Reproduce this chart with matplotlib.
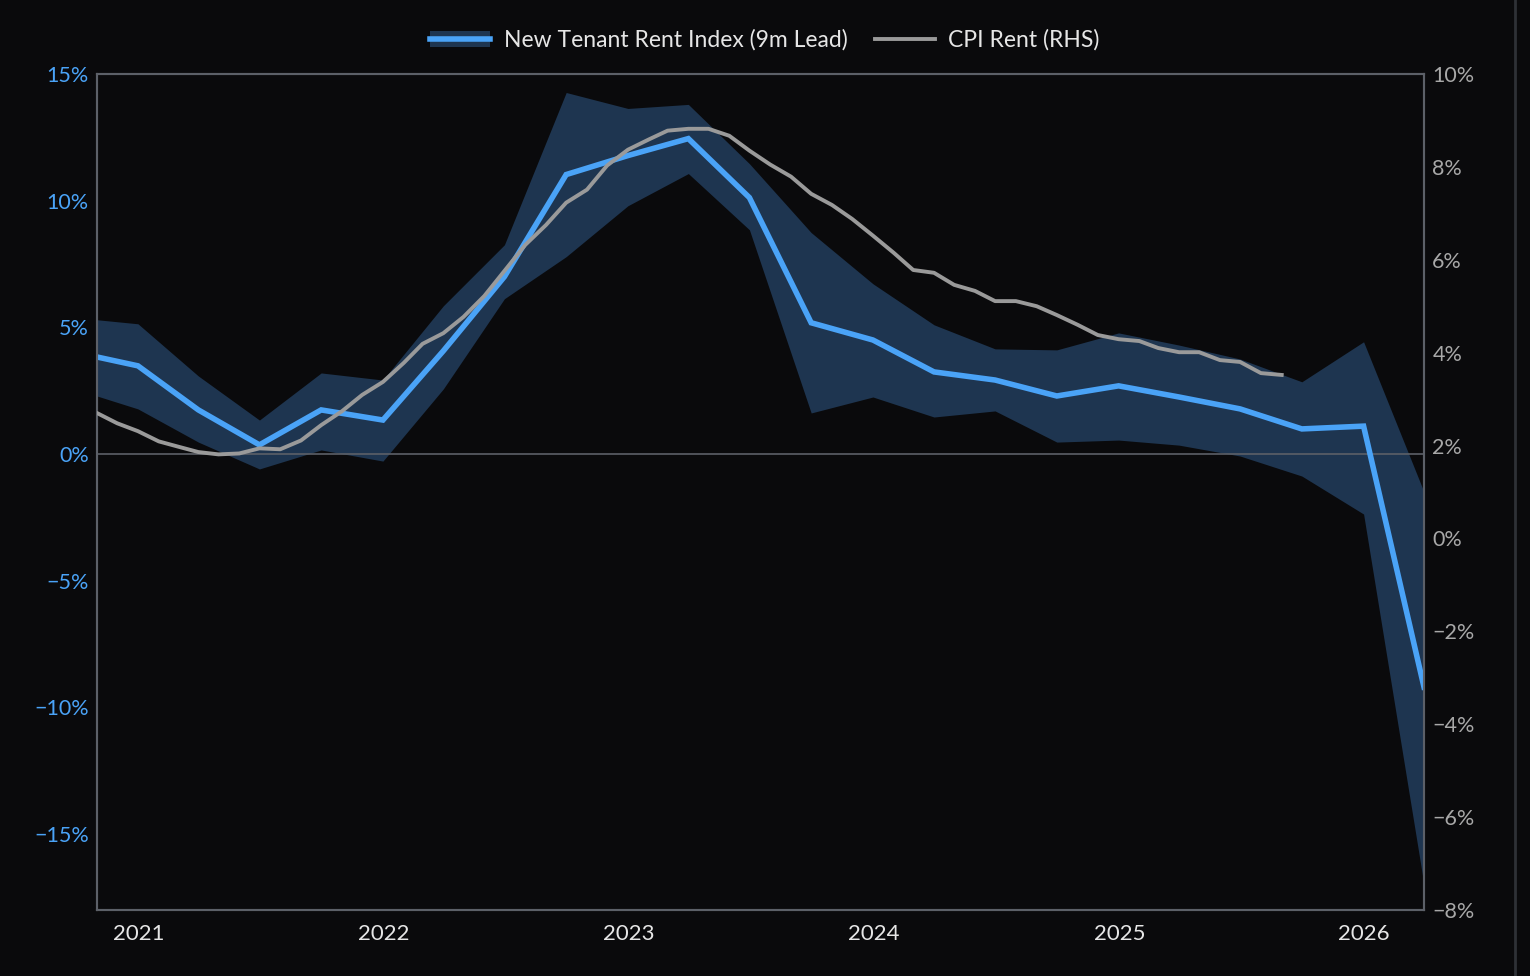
import pandas as pd
import matplotlib.pyplot as plt
from matplotlib.patches import Patch
from matplotlib.lines import Line2D
from matplotlib.legend_handler import HandlerTuple
from matplotlib.ticker import FuncFormatter

# New tenant rent index (9m lead), quarterly, with band
ntri_dates = ['2020-10-31', '2020-12-31', '2021-03-31', '2021-06-30', '2021-09-30', '2021-12-31',
              '2022-03-31', '2022-06-30', '2022-09-30', '2022-12-31', '2023-03-31', '2023-06-30',
              '2023-09-30', '2023-12-31', '2024-03-31', '2024-06-30', '2024-09-30', '2024-12-31',
              '2025-03-31', '2025-06-30', '2025-09-30', '2025-12-31', '2026-03-31']
ntri_mid = [3.83, 3.48, 1.74, 0.36, 1.74, 1.34, 4.07, 7.0, 11.03, 11.78, 12.45, 10.12,
            5.18, 4.5, 3.24, 2.92, 2.29, 2.69, 2.25, 1.78, 0.99, 1.1, -9.2]
ntri_hi = [5.3, 5.14, 3.08, 1.34, 3.2, 2.92, 5.85, 8.26, 14.27, 13.64, 13.8, 11.46,
           8.74, 6.72, 5.1, 4.15, 4.11, 4.78, 4.3, 3.75, 2.85, 4.43, -1.5]
ntri_lo = [2.29, 1.78, 0.47, -0.59, 0.16, -0.28, 2.57, 6.13, 7.79, 9.8, 11.07, 8.85,
           1.62, 2.25, 1.46, 1.7, 0.47, 0.55, 0.35, -0.08, -0.87, -2.37, -17.0]

# CPI rent (RHS), monthly from Oct 2020
cpi_start = '2020-10-31'
cpi_rent = [2.70, 2.48, 2.31, 2.09, 1.98, 1.86, 1.81, 1.83, 1.94, 1.92, 2.11, 2.44,
            2.74, 3.09, 3.37, 3.78, 4.19, 4.42, 4.77, 5.22, 5.76, 6.32, 6.75, 7.23,
            7.51, 8.03, 8.37, 8.59, 8.78, 8.82, 8.82, 8.67, 8.35, 8.05, 7.79, 7.42,
            7.18, 6.88, 6.52, 6.15, 5.78, 5.72, 5.46, 5.33, 5.11, 5.11, 5.0, 4.81,
            4.6, 4.38, 4.29, 4.25, 4.10, 4.01, 4.01, 3.84, 3.80, 3.56, 3.52]

left_ticks = [-15, -10, -5, 0, 5, 10, 15]
right_ticks = [-8, -6, -4, -2, 0, 2, 4, 6, 8, 10]

BG = '#0a0a0c'
BLUE = '#4aa3f7'
BAND = '#1e3550'
GREY = '#9a9a9a'
SPINE = '#5c6068'

plt.rcParams['font.family'] = ['Lato', 'DejaVu Sans']

ntri_x = pd.to_datetime(ntri_dates)
cpi_x = pd.date_range(cpi_start, periods=len(cpi_rent), freq='ME')

fig = plt.figure(figsize=(15.3, 9.76), dpi=100, facecolor=BG)
ax = fig.add_axes([97 / 1530, 1 - 910 / 976, (1424 - 97) / 1530, (910 - 74) / 976])
ax.set_facecolor(BG)
ax2 = ax.twinx()

ax.fill_between(ntri_x, ntri_lo, ntri_hi, color=BAND, lw=0, zorder=1)
ax.axhline(0, color=SPINE, lw=1.2, zorder=2)
ax.plot(ntri_x, ntri_mid, color=BLUE, lw=4, zorder=3, solid_joinstyle='miter')
ax2.plot(cpi_x, cpi_rent, color=GREY, lw=2.8, zorder=4)

ax.set_xlim(pd.Timestamp('2020-10-31'), pd.Timestamp('2026-03-31'))
ax.set_ylim(-18, 15)
ax2.set_ylim(-8, 10)
ax.set_yticks(left_ticks)
ax2.set_yticks(right_ticks)

pct = FuncFormatter(lambda v, p: f'{v:.0f}%'.replace('-', '\u2212'))
ax.yaxis.set_major_formatter(pct)
ax2.yaxis.set_major_formatter(pct)

ax.set_xticks(pd.to_datetime(['2021-01-01', '2022-01-01', '2023-01-01',
                              '2024-01-01', '2025-01-01', '2026-01-01']))
ax.set_xticklabels(['2021', '2022', '2023', '2024', '2025', '2026'])

ax.tick_params(axis='y', length=0, pad=6, labelsize=15.5, labelcolor=BLUE)
ax2.tick_params(axis='y', length=0, pad=6, labelsize=15.5, labelcolor='#a8a8a8')
ax.tick_params(axis='x', length=0, pad=10, labelsize=16, labelcolor='#e6e6e6')

for a in (ax, ax2):
    for s in a.spines.values():
        s.set_color(SPINE)
        s.set_linewidth(1.5)

h1 = (Patch(facecolor=BAND, edgecolor='none'), Line2D([], [], color=BLUE, lw=4))
h2 = Line2D([], [], color=GREY, lw=2.8)
fig.legend([h1, h2], ['New Tenant Rent Index (9m Lead)', 'CPI Rent (RHS)'],
           handler_map={tuple: HandlerTuple(ndivide=1)},
           loc='center', bbox_to_anchor=(0.5, 1 - 40 / 976), ncol=2, frameon=False,
           fontsize=16.5, labelcolor='#e6e6e6', handlelength=2.6, columnspacing=1.2,
           handletextpad=0.6)

fig.add_artist(Line2D([1515 / 1530, 1515 / 1530], [0, 1], color='#2e3136', lw=2,
                      transform=fig.transFigure))

plt.savefig('out.png', dpi=100, facecolor=BG)
